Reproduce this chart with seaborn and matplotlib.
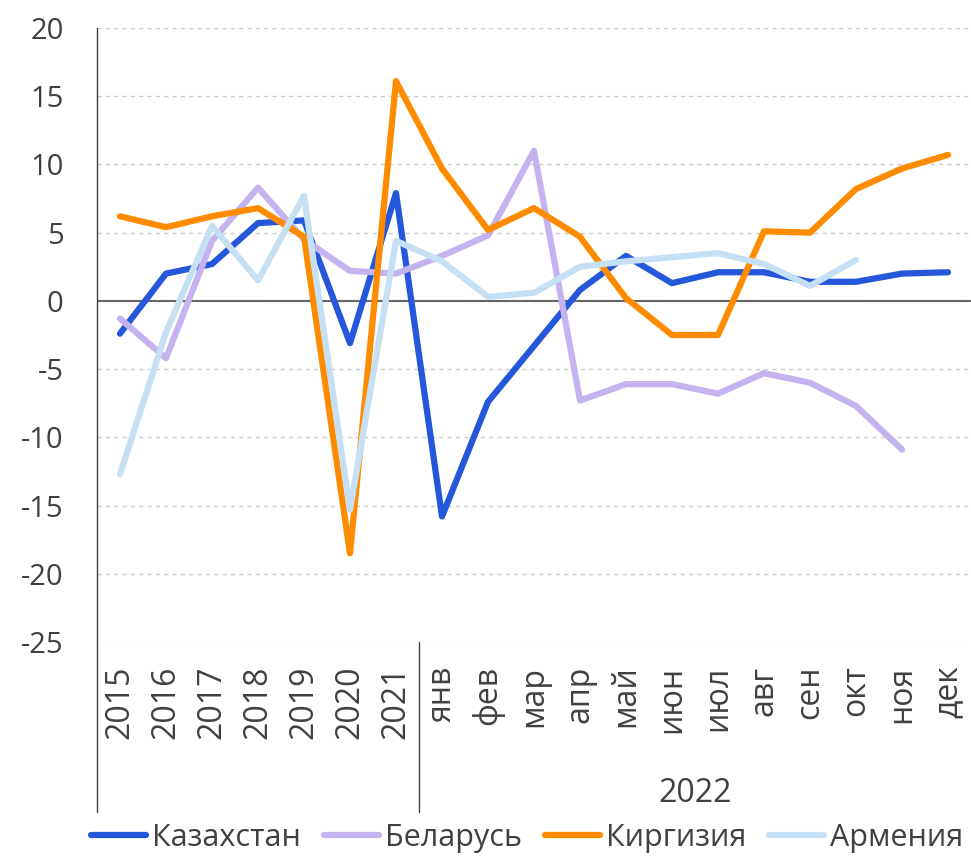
import numpy as np
import pandas as pd
import matplotlib.pyplot as plt
import seaborn as sns

categories = ['2015', '2016', '2017', '2018', '2019', '2020', '2021',
              'янв', 'фев', 'мар', 'апр', 'май', 'июн', 'июл', 'авг',
              'сен', 'окт', 'ноя', 'дек']

kazakhstan = [-2.4, 2.0, 2.7, 5.7, 5.9, -3.1, 7.9,
              -15.8, -7.4, -3.3, 0.8, 3.3, 1.3, 2.1, 2.1, 1.4, 1.4, 2.0, 2.1]
belarus = [-1.3, -4.2, 4.4, 8.3, 4.5, 2.2, 2.0,
           3.3, 4.8, 11.0, -7.3, -6.1, -6.1, -6.8, -5.3, -6.0, -7.7, -10.9, np.nan]
kyrgyzstan = [6.2, 5.4, 6.2, 6.8, 4.7, -18.5, 16.1,
              9.7, 5.2, 6.8, 4.7, 0.2, -2.5, -2.5, 5.1, 5.0, 8.2, 9.7, 10.7]
armenia = [-12.7, -2.3, 5.5, 1.5, 7.7, -15.3, 4.4,
           2.9, 0.3, 0.6, 2.5, 2.9, 3.2, 3.5, 2.7, 1.1, 3.0, np.nan, np.nan]

series = {'Казахстан': kazakhstan, 'Беларусь': belarus,
          'Киргизия': kyrgyzstan, 'Армения': armenia}
colors = ['#2457d9', '#c4b3ee', '#ff8c00', '#c5e0f5']

df = pd.concat([
    pd.DataFrame({'pos': range(len(categories)), 'value': vals, 'country': name})
    for name, vals in series.items()
], ignore_index=True).dropna()

sns.set_style('white')
plt.rcParams['font.family'] = ['Open Sans', 'DejaVu Sans']
plt.rcParams['axes.unicode_minus'] = False
text_color = '#404040'

fig = plt.figure(figsize=(9.71, 8.6), dpi=100)
ax = fig.add_axes([97 / 971, 1 - 642 / 860, 1 - 97 / 971, (642 - 28) / 860])

sns.lineplot(data=df, x='pos', y='value', hue='country', palette=colors,
             hue_order=list(series.keys()), linewidth=4.5, sort=False,
             legend=False, ax=ax, solid_capstyle='round', solid_joinstyle='round')

ax.set_xlim(-0.5, len(categories) - 0.5)
ax.set_ylim(-25, 20)
ax.set_yticks(range(-25, 21, 5))
ax.yaxis.grid(True, linestyle=(0, (3, 3)), color='#cccccc', linewidth=1)
ax.set_axisbelow(True)
ax.axhline(0, color='#666666', linewidth=1.5, zorder=1.5)

for s in ax.spines.values():
    s.set_visible(False)

ax.set_xticks(range(len(categories)))
ax.set_xticklabels(categories, rotation=90, va='top')
ax.tick_params(axis='x', length=0, pad=17, labelsize=23, labelcolor=text_color)
ax.tick_params(axis='y', length=0, pad=24, labelsize=21, labelcolor=text_color)
ax.set_xlabel('')
ax.set_ylabel('')

# left border and the separator between years and months, extending under labels
ext = -(812 - 642) / 614
for xpos in (-0.5, 6.5):
    top = 1 if xpos == -0.5 else 0
    ax.plot([xpos, xpos], [top, ext], color='#404040', linewidth=1,
            transform=ax.get_xaxis_transform(), clip_on=False)

ax.text(12.5, -(794 - 642) / 614, '2022', transform=ax.get_xaxis_transform(),
        ha='center', va='center', fontsize=23, color=text_color)

handles = [plt.Line2D([], [], color=c, linewidth=4.5, solid_capstyle='round')
           for c in colors]
fig.legend(handles, list(series.keys()), loc='center', ncol=4,
           bbox_to_anchor=(527 / 971, 1 - 838 / 860), frameon=False,
           fontsize=22, handlelength=1.8, handletextpad=0.2,
           columnspacing=0.75, labelcolor=text_color, borderpad=0)

fig.savefig('out.png', dpi=100)
